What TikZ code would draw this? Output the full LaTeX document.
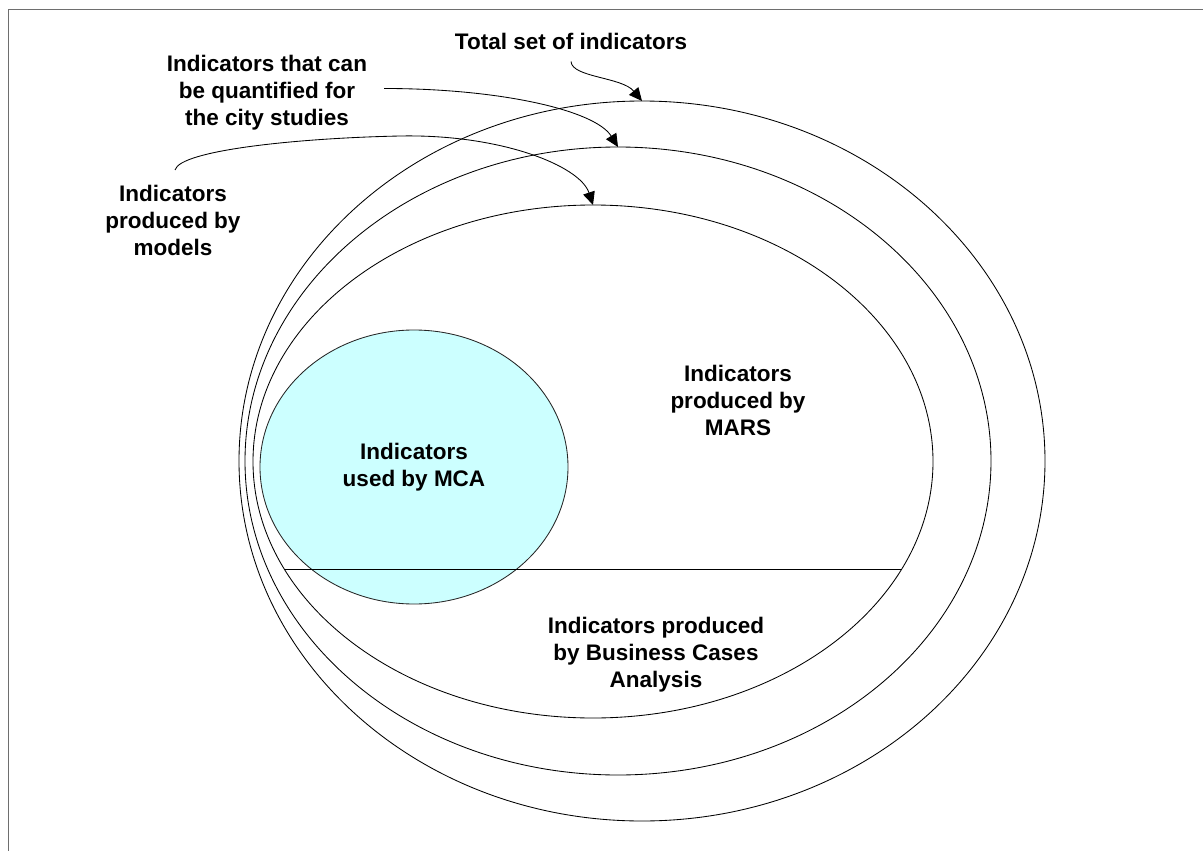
\documentclass[tikz,border=0pt]{standalone}
\usepackage{fontspec}
\setmainfont{Liberation Sans}
\usetikzlibrary{arrows.meta,shapes.geometric}
\definecolor{framegray}{RGB}{110,110,110}
\definecolor{mcacyan}{RGB}{204,255,255}
\tikzset{
  setring/.style={draw=black, line width=0.85pt, shape=ellipse, inner sep=0pt, outer sep=0pt},
  label/.style={align=center, inner sep=0pt, outer sep=0pt, anchor=north,
                font=\bfseries\fontsize{22.5}{27}\selectfont},
  conn/.style={draw=black, line width=0.85pt, -{Triangle[length=13pt,width=12pt]}},
}
\begin{document}
\begin{tikzpicture}[x=1pt,y=-1pt]
  \useasboundingbox (0,0) rectangle (1203,851);
  % page frame
  \draw[framegray, line width=1.6pt] (8.3,860) -- (8.3,9.5) -- (1215,9.5);

  % nested indicator sets
  \node[setring, minimum width=806pt, minimum height=720pt] (outer) at (642,461) {};
  \node[setring, minimum width=746pt, minimum height=628pt] (middle) at (618,461) {};
  \node[setring, minimum width=680pt, minimum height=513pt] (inner) at (593,461.5) {};

  % MCA subset
  \node[setring, fill=mcacyan, draw=black!85, minimum width=308pt, minimum height=274pt,
        align=center, font=\bfseries\fontsize{22.5}{27}\selectfont] (mca) at (414,467)
        {Indicators\\used by MCA};

  % split between MARS and Business Cases
  \coordinate (splitL) at (284,569);
  \coordinate (splitR) at (901.5,569);
  \draw[black, line width=0.85pt] (splitL) -- (splitR);

  % labels
  \node[label] (total) at (571,33) {Total set of indicators};
  \node[label] (quant) at (267,55) {Indicators that can\\be quantified for\\the city studies};
  \node[label] (models) at (173,185) {Indicators\\produced by\\models};
  \node[label] (mars) at (738,365) {Indicators\\produced by\\MARS};
  \node[label] (bca) at (656,617) {Indicators produced\\by Business Cases\\Analysis};

  % pointers to the sets
  \draw[conn] ([yshift=-12pt]total.south) .. controls +(1,16) and +(-20,-24) .. (outer.north);
  \draw[conn] ([shift={(17pt,4pt)}]quant.east) .. controls +(115,0) and +(-23,-37) .. (middle.north);
  \draw[conn] ([shift={(2pt,15pt)}]models.north) .. controls +(5,-20) and (300,138) .. (400,136)
              .. controls (500,134) and +(-13,-39.5) .. (inner.north);
\end{tikzpicture}
\end{document}
